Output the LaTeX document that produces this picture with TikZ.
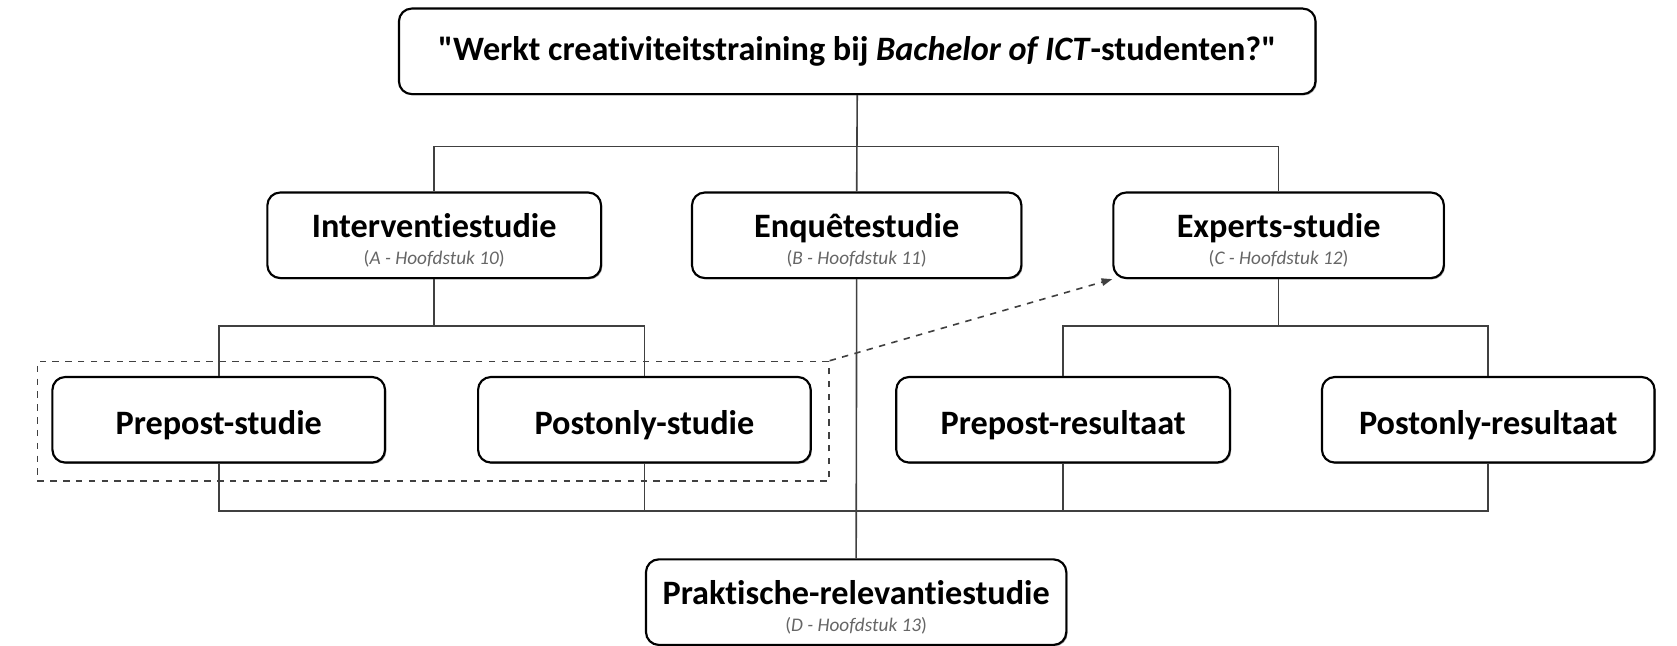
\documentclass[tikz,border=0pt]{standalone}
\usepackage{fontspec}
\setmainfont{Carlito}[Ligatures={TeXOff,NoCommon}]
\usetikzlibrary{shadows,arrows.meta}
\newcommand{\mainfs}{\fontsize{16}{18}\selectfont\bfseries}
\newcommand{\subfs}[1]{{\fontsize{9}{10}\selectfont\mdseries\color{black!60}(\textit{#1})}}
\newcommand{\st}{\rule{0pt}{16pt}}
\begin{document}
\begin{tikzpicture}[x=0.5pt,y=-0.5pt,
  box/.style={draw=black,line width=1pt,rounded corners=6pt,fill=white,
    drop shadow={shadow xshift=0.6pt,shadow yshift=-0.6pt,opacity=0.35,fill=black},
    minimum height=40pt,inner sep=0pt,align=center,font=\mainfs},
  conn/.style={draw=black!75,line width=0.75pt},
  grpbox/.style={draw=black!75,dashed,line width=0.75pt,inner sep=0pt,minimum width=370pt,minimum height=56pt},
  dasharrow/.style={draw=black!75,dashed,line width=0.75pt,-{Triangle[length=5pt,width=3.5pt]}}]
\useasboundingbox (0,0) rectangle (1568,604);
% nodes
\node[box,minimum width=428.5pt] (top) at (801.5,48) {"Werkt creativiteitstraining bij \textit{Bachelor of ICT}-studenten?"};
\node[grpbox] (grp) at (405,394) {};
\node[box,minimum width=156pt] (int) at (406,220) {\st Interventiestudie\\[-5pt]\subfs{A - Hoofdstuk 10}};
\node[box,minimum width=154pt] (enq) at (801,220) {\st Enquêtestudie\\[-5pt]\subfs{B - Hoofdstuk 11}};
\node[box,minimum width=154.5pt] (exp) at (1195.5,220) {\st Experts-studie\\[-5pt]\subfs{C - Hoofdstuk 12}};
\node[box,minimum width=155.5pt] (pre) at (204.5,392.5) {\st Prepost-studie};
\node[box,minimum width=155.5pt] (post) at (602.5,392.5) {\st Postonly-studie};
\node[box,minimum width=156pt] (prr) at (994,392.5) {\st Prepost-resultaat};
\node[box,minimum width=155.5pt] (por) at (1391.5,392.5) {\st Postonly-resultaat};
\node[box,minimum width=196.5pt] (prak) at (800.5,563) {\st Praktische-relevantiestudie\\[-5pt]\subfs{D - Hoofdstuk 13}};
% bar coordinates
\coordinate (b1) at (801,137);
\coordinate (b2) at (406,305);
\coordinate (b3) at (1195.5,305);
\coordinate (b4) at (801,478);
% connectors
\draw[conn] (top.south) -- (enq.north);
\draw[conn] (int.north) |- (b1) -| (exp.north);
\draw[conn] (int.south) -- (b2);
\draw[conn] (pre.north) |- (b2) -| (post.north);
\draw[conn] (exp.south) -- (b3);
\draw[conn] (prr.north) |- (b3) -| (por.north);
\draw[conn] (enq.south) -- (prak.north);
\draw[conn] (pre.south) |- (b4) -| (por.south);
\draw[conn] (post.south) -- (post.south |- b4);
\draw[conn] (prr.south) -- (prr.south |- b4);
\draw[dasharrow] (grp.north east) -- (exp.south west);
\end{tikzpicture}
\end{document}
